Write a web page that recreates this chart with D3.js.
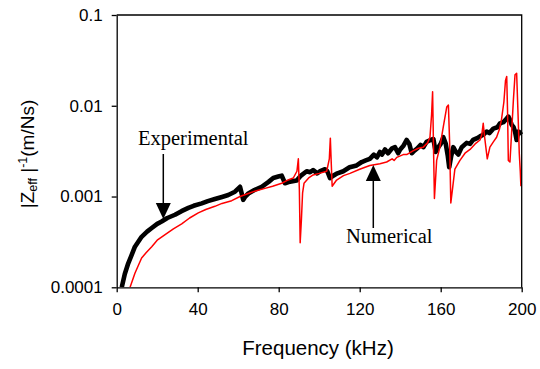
<!DOCTYPE html>
<html><head><meta charset="utf-8">
<script src="https://cdn.jsdelivr.net/npm/d3@7/dist/d3.min.js"></script>
<style>body{margin:0;background:#fff}svg{display:block}</style>
</head><body>
<svg id="c" width="540" height="369"></svg>
<script>
const expFreq = [2.5,4,5.7,7.5,9,12.3,15,17.3,20,22.2,25,28.8,32,35.4,38,42,45,48.5,52,55.1,58.4,60.9,62.5,63.5,65,68,71.6,75,77.3,79.8,81.5,83.1,85.6,88.9,91,93.8,95.5,97,99,100.5,102.9,104,105.3,107,109,111.9,115,118.5,121,123,125,127,128.5,130,131,132.5,134,136,137.4,139,140,141.5,143.2,144.5,145.7,147,148.5,150,151.5,153,155,156.4,157.5,158.5,160,161.3,162.5,163.5,164.2,165.2,166.2,167.5,168.7,170.4,172.8,174.5,176,178,179.4,181,182.7,184,186,188,189.3,191,192.5,193.4,194.2,195,196,196.7,197.5,198.3,199,200];
const expVal = [0.0001,0.00014,0.000184,0.00023,0.00028,0.00036,0.00041,0.00045,0.0005,0.00053,0.00058,0.00063,0.00069,0.00075,0.00079,0.00084,0.00089,0.00094,0.00099,0.00104,0.00113,0.00128,0.00092,0.001,0.00108,0.00118,0.00128,0.00145,0.0016,0.00166,0.0017,0.0014,0.00146,0.0015,0.0017,0.0019,0.00185,0.00196,0.0018,0.0019,0.002,0.0019,0.0016,0.0017,0.0018,0.0019,0.0021,0.0022,0.0024,0.0025,0.0026,0.0029,0.0027,0.0031,0.0029,0.0033,0.003,0.0034,0.0035,0.003,0.0033,0.0036,0.0042,0.0038,0.003,0.0032,0.0034,0.0037,0.0035,0.004,0.0042,0.0043,0.0031,0.0034,0.0038,0.0045,0.0038,0.0028,0.0021,0.0028,0.0035,0.0031,0.0029,0.0035,0.0039,0.0038,0.0042,0.0044,0.0046,0.0048,0.0052,0.005,0.0056,0.0058,0.0064,0.0066,0.0072,0.0076,0.007,0.0062,0.0058,0.0052,0.0042,0.0052,0.005,0.0052];
const numFreq = [6.6,9,12.3,14.5,17.3,20,23.9,28,32.1,36,40.3,44,48.5,52,56.8,60.9,65,69,73.2,77,81.5,84,87.2,89,89.7,90.2,90.6,91.2,91.8,92.5,95,97,100,103.7,105,105.5,106,106.4,108.6,112,115.2,120,125,130,133.3,136,137,138.3,141.5,143.2,146.5,149,151.4,153.5,154.7,155.5,156,156.5,156.9,157.5,158,159.6,161.3,163,163.8,164.4,165,166,167,169.5,172,174.5,177,179.4,180.3,181,181.7,183,184.3,186,187.6,189,190,191.2,192,192.6,193,193.4,194.2,195,195.9,196.7,197.5,198.2,198.8,199.3,199.6];
const numVal = [0.0001,0.000143,0.00021,0.00024,0.00028,0.00033,0.00038,0.00044,0.0005,0.00058,0.00066,0.00072,0.00078,0.00084,0.0009,0.001,0.00108,0.00116,0.00123,0.0013,0.0014,0.0015,0.0016,0.0019,0.0026,0.0012,0.00031,0.00055,0.0011,0.0014,0.00162,0.00173,0.0018,0.0019,0.0026,0.0044,0.0022,0.0013,0.00152,0.0017,0.0018,0.002,0.0022,0.0023,0.0024,0.0026,0.0025,0.0027,0.0029,0.0029,0.0032,0.0034,0.0035,0.0039,0.0045,0.008,0.0143,0.003,0.00095,0.0016,0.0025,0.0035,0.0059,0.0097,0.0102,0.004,0.00085,0.0013,0.002,0.0025,0.003,0.0033,0.0038,0.0042,0.0048,0.0064,0.0045,0.0026,0.0035,0.004,0.0045,0.0055,0.007,0.011,0.019,0.021,0.009,0.0025,0.0024,0.005,0.0116,0.0219,0.0228,0.008,0.003,0.0019,0.0013];
const xTicks = [0,40,80,120,160,200];
const yTicks = [0.0001,0.001,0.01,0.1];
const yTickLabels = ["0.0001","0.001","0.01","0.1"];

const svg = d3.select("#c");
const L = 116.7, T = 15, W = 405, H = 272.3;
const x = d3.scaleLinear().domain([0,200]).range([L, L+W]);
const y = d3.scaleLog().domain([0.0001,0.1]).range([T+H, T]);

svg.append("defs").append("clipPath").attr("id","pc").append("rect")
  .attr("x",L).attr("y",T-10).attr("width",W+2).attr("height",H+10);

const line = d3.line().x(d=>x(d[0])).y(d=>y(d[1]));
const exp = expFreq.map((f,i)=>[f,expVal[i]]);
const num = numFreq.map((f,i)=>[f,numVal[i]]);

const g = svg.append("g").attr("clip-path","url(#pc)");
g.append("path").datum(exp).attr("d",line).attr("fill","none")
  .attr("stroke","#000").attr("stroke-width",4.6).attr("stroke-linejoin","round").attr("stroke-linecap","butt");
g.append("path").datum(num).attr("d",line).attr("fill","none")
  .attr("stroke","#ff0000").attr("stroke-width",1.5).attr("stroke-linejoin","round");

// frame
svg.append("path").attr("d",`M${L},${T}H${L+W}V${T+H}`).attr("fill","none").attr("stroke","#000").attr("stroke-width",1.3);

const xa = svg.append("g").attr("transform",`translate(0,${T+H})`)
  .call(d3.axisBottom(x).tickValues(xTicks).tickSize(5).tickPadding(11).tickSizeOuter(0));
const ya = svg.append("g").attr("transform",`translate(${L},0)`)
  .call(d3.axisLeft(y).tickValues(yTicks).tickFormat((d,i)=>yTickLabels[i]).tickSize(5).tickPadding(9).tickSizeOuter(0));
[xa,ya].forEach(a=>{
  a.select(".domain").attr("stroke","#000").attr("stroke-width",1.3);
  a.selectAll(".tick line").attr("stroke","#000").attr("stroke-width",1.3);
  a.selectAll("text").attr("font-family","'Liberation Sans', Arial, sans-serif").attr("font-size",17).attr("fill","#000");
});

svg.append("text").attr("x",318).attr("y",355).attr("text-anchor","middle")
  .attr("font-family","'Liberation Sans', Arial, sans-serif").attr("font-size",20.5).text("Frequency (kHz)");

const yt = svg.append("text").attr("transform","translate(34,154) rotate(-90)").attr("text-anchor","middle")
  .attr("font-family","'Liberation Sans', Arial, sans-serif").attr("font-size",19);
yt.append("tspan").text("|Z");
yt.append("tspan").attr("font-size",12.5).attr("dy",3).text("eff");
yt.append("tspan").attr("dy",-3).text(" |");
yt.append("tspan").attr("font-size",12.5).attr("dy",-7).text("-1");
yt.append("tspan").attr("dy",7).text("(m/Ns)");

const serif = "'Liberation Serif', 'Times New Roman', serif";
svg.append("text").attr("x",138).attr("y",145).attr("font-family",serif).attr("font-size",20.5).text("Experimental");
svg.append("text").attr("x",346).attr("y",243).attr("font-family",serif).attr("font-size",20.5).text("Numerical");

function arrow(xp, y0, tip, dir){
  const base = tip - dir*16;
  svg.append("line").attr("x1",xp).attr("x2",xp).attr("y1",y0).attr("y2",base).attr("stroke","#000").attr("stroke-width",1.5);
  svg.append("path").attr("d",`M${xp-7.5},${base}L${xp+7.5},${base}L${xp},${tip}Z`).attr("fill","#000");
}
arrow(163.3,154,219,1);
arrow(373.3,228,165,-1);
</script>
</body></html>
